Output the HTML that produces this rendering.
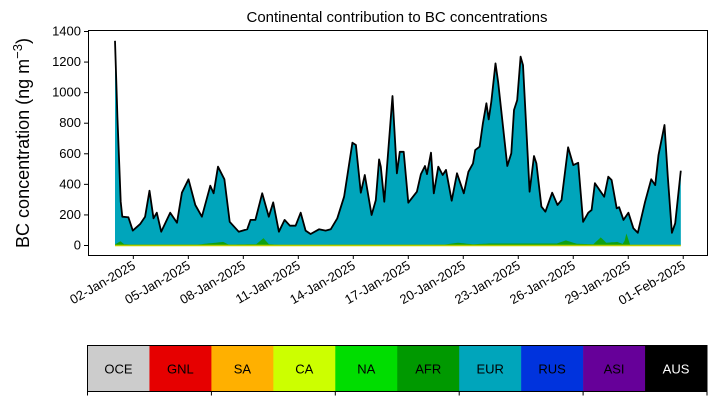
<!DOCTYPE html>
<html><head><meta charset="utf-8">
<style>
html,body{margin:0;padding:0;background:#fff;}
svg{display:block;font-family:"Liberation Sans","DejaVu Sans",sans-serif;}
</style></head>
<body>
<svg id="chart" width="716" height="402" viewBox="0 0 716 402"></svg>
<script>
// days since 01-Jan-2025 00:00, and total BC (ng m^-3)
const days = [0,0.13,0.31,0.4,0.73,0.97,1.37,1.64,1.88,2.1,2.28,2.52,3.01,3.38,3.65,4.01,4.38,4.74,5.2,5.38,5.62,5.97,6.26,6.75,7.21,7.39,7.66,8.03,8.39,8.63,8.94,9.25,9.54,9.85,10.13,10.4,10.67,11.13,11.49,11.77,12.13,12.5,12.95,13.14,13.41,13.63,14.0,14.23,14.41,14.5,14.69,15.14,15.38,15.54,15.75,16.0,16.47,16.69,16.91,17.02,17.24,17.39,17.64,17.88,18.06,18.37,18.66,19.03,19.28,19.53,19.65,19.89,20.07,20.26,20.39,20.53,20.76,20.9,21.07,21.4,21.62,21.77,21.94,22.13,22.26,22.62,22.86,22.99,23.26,23.48,23.85,24.14,24.36,24.72,25.0,25.27,25.54,25.82,26.0,26.18,26.69,26.91,27.09,27.37,27.5,27.74,28.01,28.28,28.52,28.92,29.25,29.47,29.65,29.98,30.16,30.38,30.56,30.87];
const totalBC = [1336,839,283,185,181,94,137,185,355,175,211,87,211,146,342,430,262,185,388,338,512,430,152,87,103,164,164,338,185,279,87,164,126,126,211,94,72,103,94,103,175,316,669,654,342,458,196,294,560,512,283,975,469,610,610,277,349,464,517,464,604,338,512,458,491,290,469,338,479,534,621,643,796,927,822,937,1188,1068,883,517,600,883,948,1232,1177,349,582,534,251,218,342,262,294,639,523,538,152,211,229,404,316,447,425,240,247,164,211,109,80,283,430,392,589,785,447,80,142,486];
// AFR contribution (small green layer at the bottom), sampled at afrDays
const afrDays = [0,0.3,0.5,0.8,4.5,5.9,6.2,7.7,8.1,8.4,9,18,18.7,19.5,20.5,24.1,24.6,25.2,26.1,26.5,26.8,27.4,27.75,27.9,28.1];
const afrBC = [3,25,5,3,3,20,3,5,45,5,2,3,15,5,10,10,30,8,5,50,15,20,5,75,3];
const yTicks = [0,200,400,600,800,1000,1200,1400];
const xTickDays = [1,4,7,10,13,16,19,22,25,28,31];
const xTickLabels = ["02-Jan-2025","05-Jan-2025","08-Jan-2025","11-Jan-2025","14-Jan-2025","17-Jan-2025","20-Jan-2025","23-Jan-2025","26-Jan-2025","29-Jan-2025","01-Feb-2025"];
const regions = ["OCE","GNL","SA","CA","NA","AFR","EUR","RUS","ASI","AUS"];
const regionColors = ["#cccccc","#e60000","#ffb000","#ccff00","#00dd00","#009900","#00a5bb","#0033dd","#660099","#000000"];

const svg = document.getElementById('chart');
const NS = 'http://www.w3.org/2000/svg';
function mk(tag, attrs, parent){const e=document.createElementNS(NS,tag);for(const k in attrs)e.setAttribute(k,attrs[k]);(parent||svg).appendChild(e);return e;}
const L=88,R=707,T=30,B=255;
const X = d => 115 + d*18.33;
const Y = v => 245 - v*(214/1400);
function interp(d){ if(d<=afrDays[0])return afrBC[0]; for(let i=1;i<afrDays.length;i++){ if(d<=afrDays[i]){const t=(d-afrDays[i-1])/(afrDays[i]-afrDays[i-1]);return afrBC[i-1]+t*(afrBC[i]-afrBC[i-1]);}} return 2;}

let p = 'M'+X(days[0])+','+Y(0);
days.forEach((d,i)=>{p+=' L'+X(d).toFixed(1)+','+Y(totalBC[i]).toFixed(1);});
p+=' L'+X(days[days.length-1])+','+Y(0)+' Z';
const eur = mk('path',{d:p,fill:'#00a5bb'});


let pa='M'+X(days[0])+','+Y(0);
const fine=[];for(let d=0;d<=days[days.length-1];d+=0.1)fine.push(d);
fine.forEach(d=>{pa+=' L'+X(d).toFixed(1)+','+Y(interp(d)).toFixed(1);});
pa+=' L'+X(days[days.length-1])+','+Y(0)+' Z';
const afr = mk('path',{d:pa,fill:'#11a011'});


const base = mk('line',{x1:X(days[0]),x2:X(days[days.length-1]),y1:Y(0)+0.5,y2:Y(0)+0.5,stroke:'#b8cc00','stroke-width':1.5});


let pl='';
days.forEach((d,i)=>{pl+=(i?' L':'M')+X(d).toFixed(1)+','+Y(totalBC[i]).toFixed(1);});
const tl = mk('path',{d:pl,fill:'none',stroke:'#000','stroke-width':1.8,'stroke-linejoin':'round'});



const fr = mk('rect',{x:L+0.5,y:T+0.5,width:R-L,height:B-T,fill:'none',stroke:'#000','stroke-width':1});


yTicks.forEach(v=>{
  mk('line',{x1:L-4,x2:L,y1:Y(v)+0.5,y2:Y(v)+0.5,stroke:'#000'});
  const t = mk('text',{x:L-7,y:Y(v)+4.5,'text-anchor':'end','font-size':13,fill:'#000'});
  t.textContent=v;
  
  
});
xTickDays.forEach((d,i)=>{
  const x=X(d);
  mk('line',{x1:x,x2:x,y1:B,y2:B+4,stroke:'#000'});
  const t = mk('text',{x:x+3,y:B+13,'text-anchor':'end','font-size':13,fill:'#000',transform:'rotate(-30 '+(x+3)+' '+(B+13)+')'});
  t.textContent=xTickLabels[i];
  
  
});
const title = mk('text',{x:397,y:22,'text-anchor':'middle','font-size':15,fill:'#000'});
title.textContent='Continental contribution to BC concentrations';


const yl = mk('text',{x:0,y:0,'text-anchor':'middle','font-size':18,fill:'#000',transform:'translate(29,143) rotate(-90)'});
yl.innerHTML='BC concentration (ng m<tspan dy="-7" font-size="13">−3</tspan><tspan dy="7">)</tspan>';



const cbL=87.5, cbT=345.5, cbW=(707-87.5)/regions.length, cbH=46;
regions.forEach((r,i)=>{
  const rc = mk('rect',{x:cbL+i*cbW,y:cbT,width:cbW+0.3,height:cbH,fill:regionColors[i]});
  
  
  const t = mk('text',{x:cbL+(i+0.5)*cbW,y:cbT+28,'text-anchor':'middle','font-size':13,fill:r==='AUS'?'#fff':'#000'});
  t.textContent=r;
  
  
});
const cbf = mk('rect',{x:cbL,y:cbT,width:cbW*regions.length,height:cbH,fill:'none',stroke:'#000','stroke-width':1});


for(let i=0;i<=regions.length;i+=2){
  const x=cbL+i*cbW;
  mk('line',{x1:x,x2:x,y1:cbT+cbH,y2:cbT+cbH+4,stroke:'#000'});
}
</script>
</body></html>
